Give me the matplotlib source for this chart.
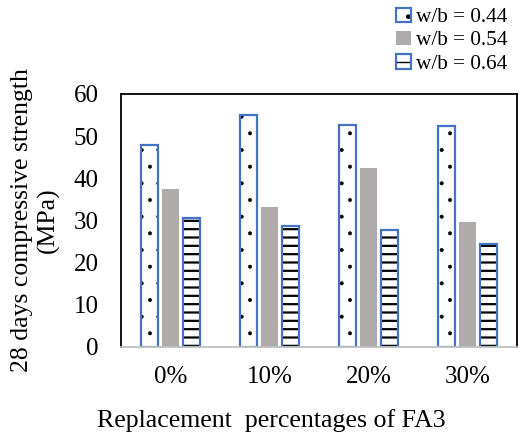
import matplotlib as mpl
import matplotlib.pyplot as plt
import numpy as np
from matplotlib.legend_handler import HandlerTuple

plt.rcParams["font.family"] = ["Liberation Serif", "DejaVu Serif"]

categories = ["0%", "10%", "20%", "30%"]
series_labels = ["w/b = 0.44", "w/b = 0.54", "w/b = 0.64"]
wb044 = [47.8, 55.0, 52.6, 52.4]
wb054 = [37.4, 33.2, 42.4, 29.6]
wb064 = [30.6, 28.7, 27.7, 24.4]
y_ticks = [0, 10, 20, 30, 40, 50, 60]

blue = "#4472C4"
grey = "#AFABAB"

fig = plt.figure(figsize=(5.28, 4.37), dpi=100)
ax = fig.add_axes([0.229, 0.206, 0.750, 0.579])

x = np.arange(len(categories))
width = 0.17
step = 0.215

# hatched fill drawn first in black, blue outline drawn on top
with mpl.rc_context({"hatch.linewidth": 0.4}):
    h1a = ax.bar(x - step, wb044, width, color="white", edgecolor="black",
                 hatch=".", linewidth=0)
h1b = ax.bar(x - step, wb044, width, fill=False, edgecolor=blue, linewidth=1.6)
h2 = ax.bar(x, wb054, width, color=grey, linewidth=0)
with mpl.rc_context({"hatch.linewidth": 1.6}):
    h3a = ax.bar(x + step, wb064, width, color="white", edgecolor="black",
                 hatch="--", linewidth=0)
h3b = ax.bar(x + step, wb064, width, fill=False, edgecolor=blue, linewidth=1.6)

ax.set_xlim(-0.5, len(categories) - 0.5)
ax.set_ylim(0, 60)
ax.set_yticks(y_ticks)
ax.set_xticks(x)
ax.set_xticklabels(categories)
ax.tick_params(axis="both", length=0, labelsize=18)
ax.tick_params(axis="x", pad=14)
ax.tick_params(axis="y", pad=16)

for side in ["top", "right", "left"]:
    ax.spines[side].set_color("black")
    ax.spines[side].set_linewidth(1.3)
ax.spines["bottom"].set_color("#BFBFBF")
ax.spines["bottom"].set_linewidth(1.3)

ax.set_ylabel("28 days compressive strength\n(MPa)", fontsize=18.5,
              linespacing=1.2, labelpad=10)
ax.set_xlabel("Replacement  percentages of FA3", fontsize=18.6, labelpad=12)
ax.xaxis.set_label_coords(0.379, -0.245)

fig.legend([(h1a, h1b), h2, (h3a, h3b)], series_labels,
           handler_map={tuple: HandlerTuple(ndivide=1, pad=0)},
           loc="upper right", bbox_to_anchor=(0.985, 1.012),
           frameon=False, fontsize=15.3, handlelength=0.7, handleheight=0.7,
           handletextpad=0.25, labelspacing=0.15, borderaxespad=0.2)

fig.savefig("out.png", dpi=100)
